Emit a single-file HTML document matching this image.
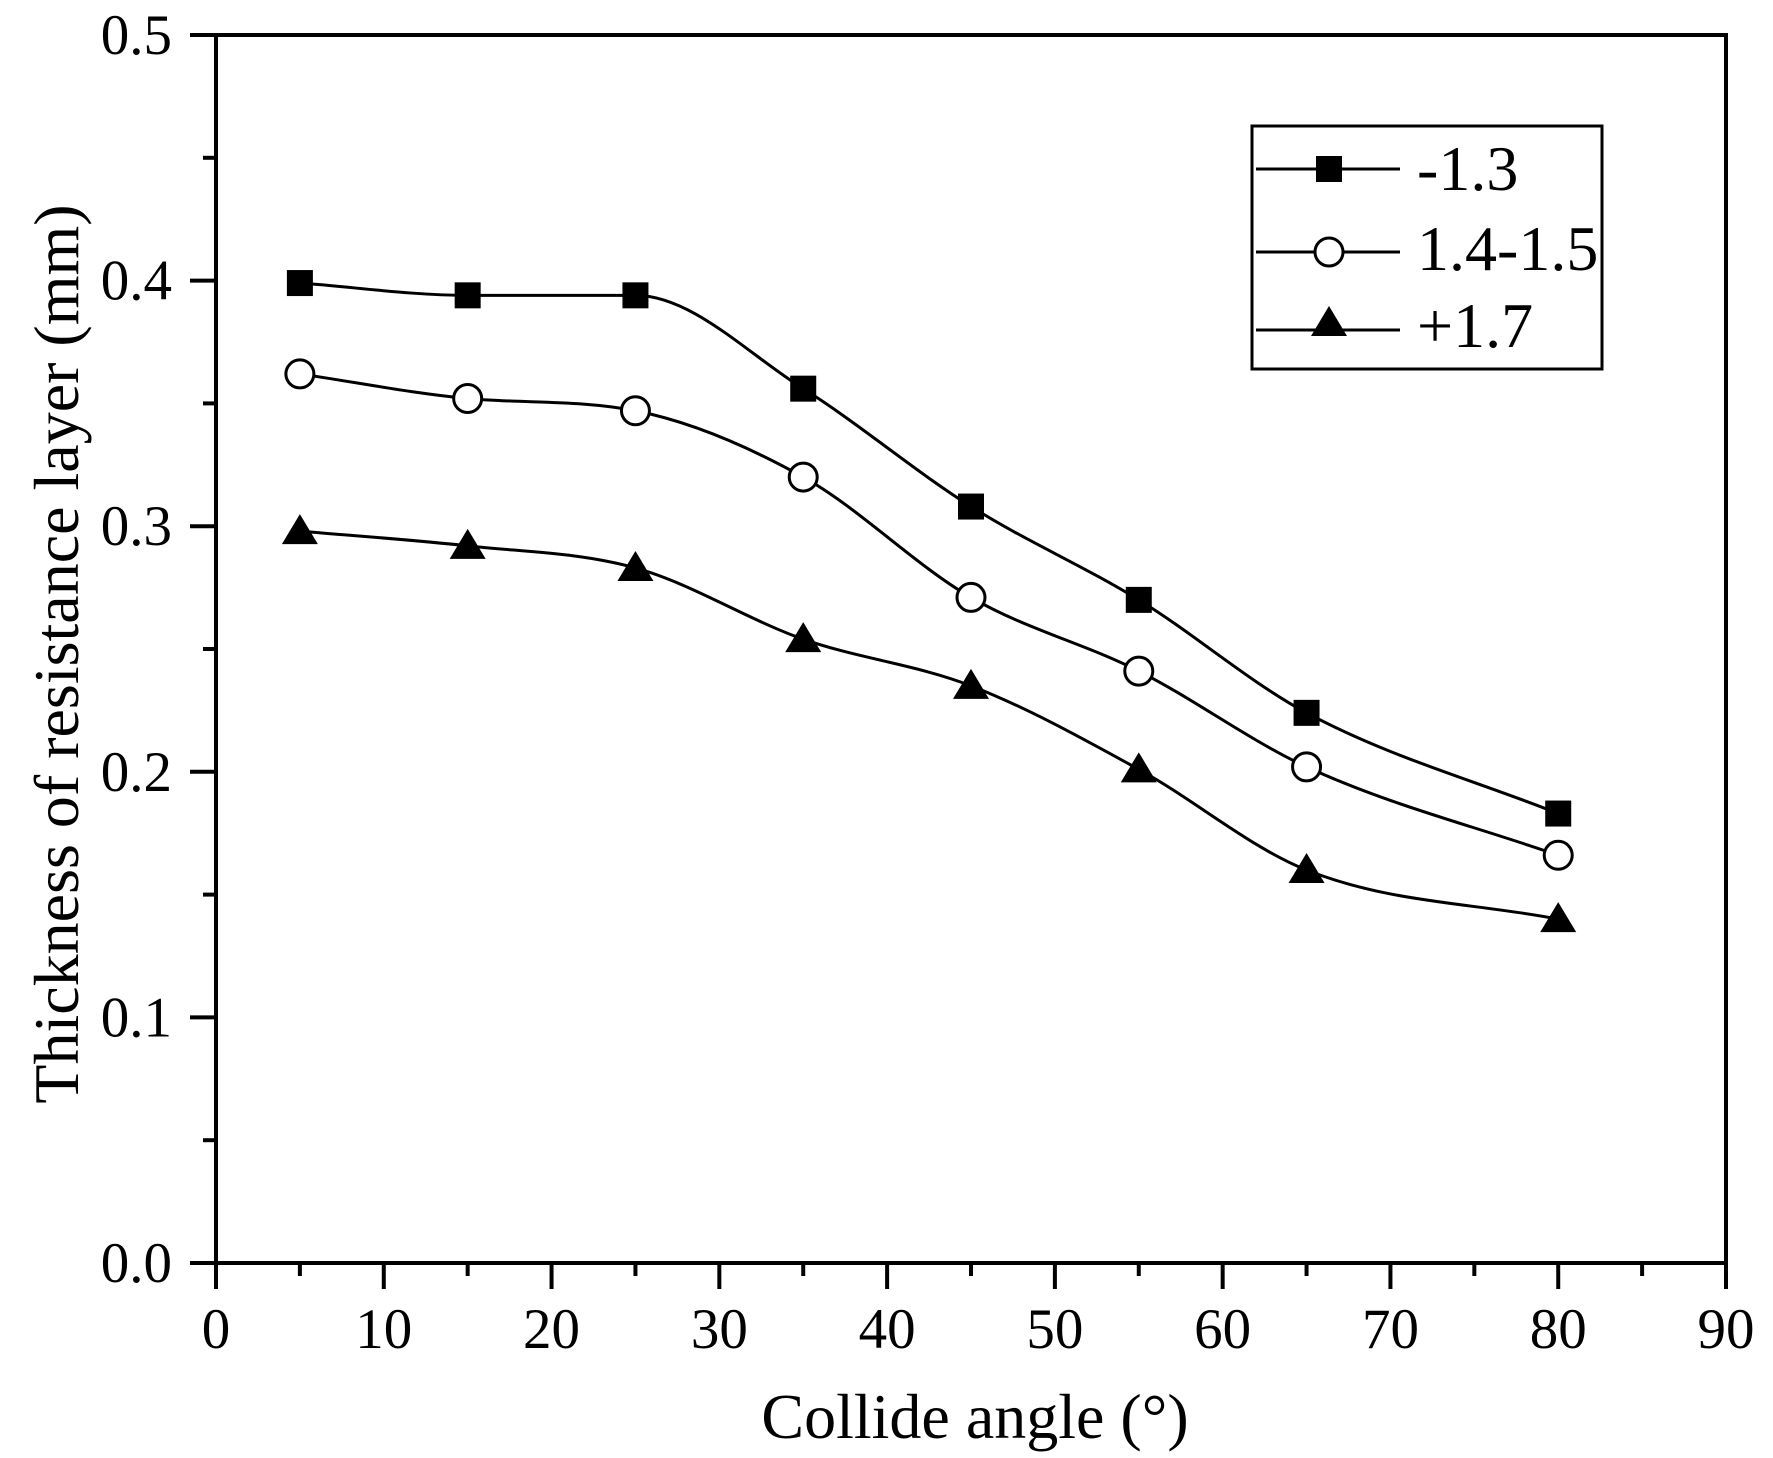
<!DOCTYPE html>
<html><head><meta charset="utf-8"><style>
html,body{margin:0;padding:0;background:#fff;}
svg{display:block;}
text{font-family:"Liberation Serif",serif;fill:#000;}
</style></head><body>
<svg id="s" width="1773" height="1458" viewBox="0 0 1773 1458" xmlns="http://www.w3.org/2000/svg">
<rect x="0" y="0" width="1773" height="1458" fill="#fff"/>
<g id="ax" stroke="#000" stroke-width="4" fill="none"></g>
<g id="tl" font-size="57"></g>
<text x="975" y="1438" font-size="64" text-anchor="middle">Collide angle (°)</text>
<text transform="translate(78,654) rotate(-90)" font-size="64" text-anchor="middle">Thickness of resistance layer (mm)</text>
<g id="series"></g>
<rect x="1252" y="126" width="350" height="243" fill="none" stroke="#000" stroke-width="3"/>
<g stroke="#000" stroke-width="3">
<line x1="1256" y1="169" x2="1400" y2="169"/>
<line x1="1256" y1="252" x2="1400" y2="252"/>
<line x1="1256" y1="330" x2="1400" y2="330"/>
</g>
<rect x="1316" y="156" width="26" height="26" fill="#000"/>
<circle cx="1329" cy="252" r="14" fill="#fff" stroke="#000" stroke-width="3"/>
<polygon points="1329,306 1347,336 1311,336" fill="#000"/>
<text x="1417" y="190" font-size="64">-1.3</text>
<text x="1417" y="270" font-size="64">1.4-1.5</text>
<text x="1417" y="347" font-size="64">+1.7</text>
</svg>
<script>
var NS="http://www.w3.org/2000/svg";
function X(v){return 216+v*(1726-216)/90;}
function Y(v){return 1263-v*(1263-35)/0.5;}
function el(p,t,a,txt){var e=document.createElementNS(NS,t);for(var k in a)e.setAttribute(k,a[k]);if(txt!==undefined)e.textContent=txt;p.appendChild(e);return e;}
var ax=document.getElementById('ax'),tl=document.getElementById('tl');
el(ax,'rect',{x:216,y:35,width:1510,height:1228});
for(var i=0;i<=18;i++){var v=i*5,x=X(v),L=(i%2==0)?26:13;el(ax,'line',{x1:x,y1:1263,x2:x,y2:1263+L});
 if(i%2==0)el(tl,'text',{x:x,y:1348,'text-anchor':'middle'},String(v));}
for(var i=0;i<=10;i++){var v=i*0.05,y=Y(v),L=(i%2==0)?26:13;el(ax,'line',{x1:216,y1:y,x2:216-L,y2:y});
 if(i%2==0)el(tl,'text',{x:172,y:y+19,'text-anchor':'end'},v.toFixed(1));}
var xs=[5,15,25,35,45,55,65,80];
var D=[[0.399,0.394,0.394,0.356,0.308,0.270,0.224,0.183],
[0.362,0.352,0.347,0.320,0.271,0.241,0.202,0.166],
[0.298,0.292,0.283,0.254,0.235,0.201,0.160,0.140]];
var g=document.getElementById('series');
D.forEach(function(d,si){
 var P=xs.map(function(x,i){return [X(x),Y(d[i])];});
 var n=P.length,dl=[],m=[];
 for(var i=0;i<n-1;i++)dl.push((P[i+1][1]-P[i][1])/(P[i+1][0]-P[i][0]));
 m[0]=dl[0];m[n-1]=dl[n-2];
 for(var i=1;i<n-1;i++){m[i]=(dl[i-1]*dl[i]<=0)?0:(dl[i-1]+dl[i])/2;}
 for(var i=0;i<n-1;i++){if(dl[i]==0){m[i]=0;m[i+1]=0;continue;}
  var a=m[i]/dl[i],b=m[i+1]/dl[i],s2=a*a+b*b;if(s2>9){var t=3/Math.sqrt(s2);m[i]=t*a*dl[i];m[i+1]=t*b*dl[i];}}
 var s="M"+P[0][0]+","+P[0][1];
 for(var i=0;i<n-1;i++){var h=(P[i+1][0]-P[i][0])/3;
  s+=" C"+(P[i][0]+h)+","+(P[i][1]+m[i]*h)+" "+(P[i+1][0]-h)+","+(P[i+1][1]-m[i+1]*h)+" "+P[i+1][0]+","+P[i+1][1];}
 el(g,'path',{d:s,fill:'none',stroke:'#000','stroke-width':3});
 P.forEach(function(p){
  if(si==0)el(g,'rect',{x:p[0]-13,y:p[1]-13,width:26,height:26,fill:'#000'});
  else if(si==1)el(g,'circle',{cx:p[0],cy:p[1],r:14,fill:'#fff',stroke:'#000','stroke-width':3});
  else el(g,'polygon',{points:(p[0])+","+(p[1]-17)+" "+(p[0]+18)+","+(p[1]+13)+" "+(p[0]-18)+","+(p[1]+13),fill:'#000'});
 });
});
</script>
</body></html>
